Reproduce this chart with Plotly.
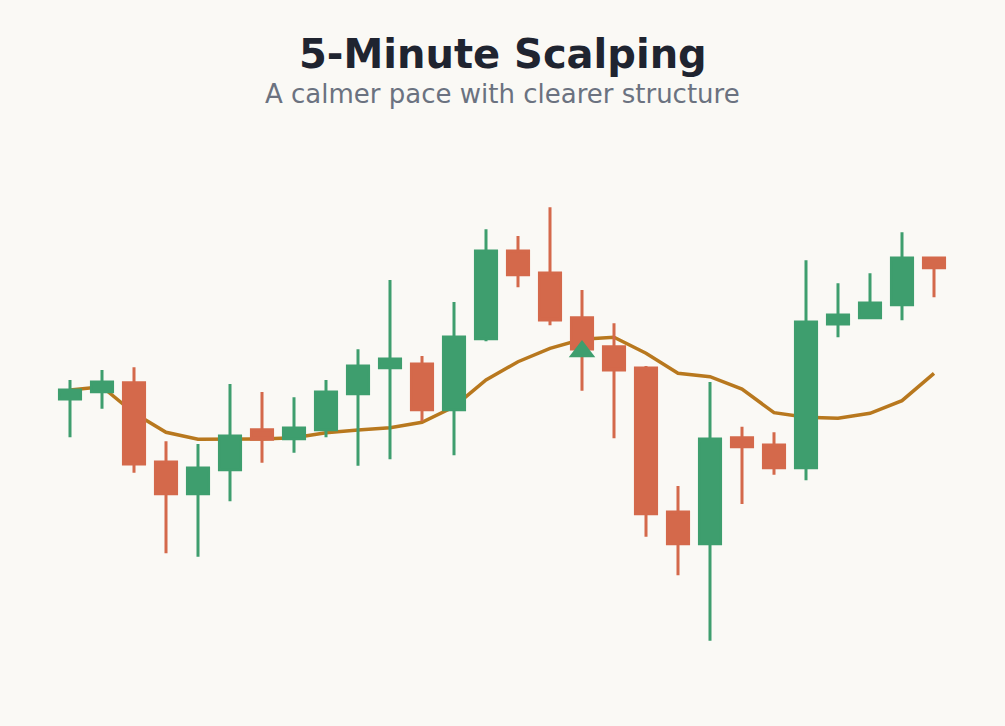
import plotly.graph_objects as go

# 5-minute bars
bars = list(range(28))
opens = [100.10, 100.83, 101.73, 93.80, 90.63, 93.03, 97.03, 96.13, 97.03, 100.63,
         103.23, 103.60, 99.03, 106.13, 114.90, 112.70, 108.23, 105.33, 103.20, 88.80,
         85.63, 96.23, 95.50, 93.23, 107.60, 108.23, 109.53, 114.20]
highs = [102.00, 103.00, 103.27, 95.87, 95.60, 101.60, 100.80, 100.27, 102.00, 105.07,
         112.00, 104.40, 109.80, 117.07, 116.40, 119.27, 111.00, 107.67, 103.40, 91.40,
         101.80, 97.33, 96.77, 113.97, 111.67, 112.67, 116.77, 114.27]
lows = [96.27, 99.13, 92.73, 84.67, 84.33, 89.87, 93.73, 94.73, 96.27, 93.43,
        94.07, 97.87, 94.47, 105.87, 111.27, 107.47, 100.93, 96.17, 86.33, 82.47,
        75.93, 89.60, 92.53, 91.97, 106.27, 108.17, 107.97, 110.27]
closes = [101.00, 101.80, 93.60, 90.63, 93.20, 96.40, 96.07, 97.20, 100.80, 103.40,
          104.10, 99.03, 106.30, 114.90, 112.53, 108.00, 105.10, 103.00, 88.63, 85.63,
          96.10, 95.33, 93.23, 107.80, 108.50, 109.70, 114.20, 113.23]
ma = [101.00, 101.33, 98.70, 96.77, 96.07, 96.07, 96.10, 96.23, 96.73, 97.00,
      97.23, 97.77, 99.33, 102.00, 103.83, 105.17, 106.07, 106.27, 104.67, 102.67,
      102.33, 101.10, 98.73, 98.27, 98.17, 98.67, 99.93, 102.67]
signal_bar = [16]
signal_price = [104.85]

GREEN = "#3e9e6e"
RED = "#d4694b"
GOLD = "#b8781e"
BG = "#faf9f5"

X_RANGE = [-2.1875, 29.21875]
Y_RANGE = [67.4, 140]

fig = go.Figure()

# average on the base axes; candles go on an overlay so they sit on top of it
fig.add_trace(go.Scatter(
    x=bars, y=ma, mode="lines",
    line=dict(color=GOLD, width=3.5), showlegend=False,
))

fig.add_trace(go.Candlestick(
    x=bars, open=opens, high=highs, low=lows, close=closes,
    increasing=dict(fillcolor=GREEN, line=dict(color=GREEN, width=3)),
    decreasing=dict(fillcolor=RED, line=dict(color=RED, width=3)),
    whiskerwidth=0, showlegend=False, xaxis="x2", yaxis="y2",
))

fig.add_trace(go.Scatter(
    x=signal_bar, y=signal_price, mode="markers",
    marker=dict(symbol="triangle-up", size=23, color=GREEN),
    showlegend=False, xaxis="x2", yaxis="y2",
))

fig.add_annotation(text="<b>5-Minute Scalping</b>", x=0.5, y=0.925, xref="paper", yref="paper",
                   showarrow=False, yanchor="middle",
                   font=dict(family="DejaVu Sans", size=40, color="#1f2430"))
fig.add_annotation(text="A calmer pace with clearer structure", x=0.5, y=0.870, xref="paper", yref="paper",
                   showarrow=False, yanchor="middle",
                   font=dict(family="DejaVu Sans", size=26, color="#6b7280"))

fig.update_layout(
    width=1005, height=726,
    margin=dict(l=0, r=0, t=0, b=0),
    paper_bgcolor=BG, plot_bgcolor=BG,
    boxgap=0.34, boxgroupgap=0,
    xaxis=dict(range=X_RANGE, visible=False, rangeslider=dict(visible=False)),
    yaxis=dict(range=Y_RANGE, visible=False),
    xaxis2=dict(range=X_RANGE, visible=False, overlaying="x", rangeslider=dict(visible=False)),
    yaxis2=dict(range=Y_RANGE, visible=False, overlaying="y"),
)

# drop the page's default body margin so the figure fills the window
fig.write_html("out.html", config={"displayModeBar": False},
               post_script="document.body.style.margin='0';")
